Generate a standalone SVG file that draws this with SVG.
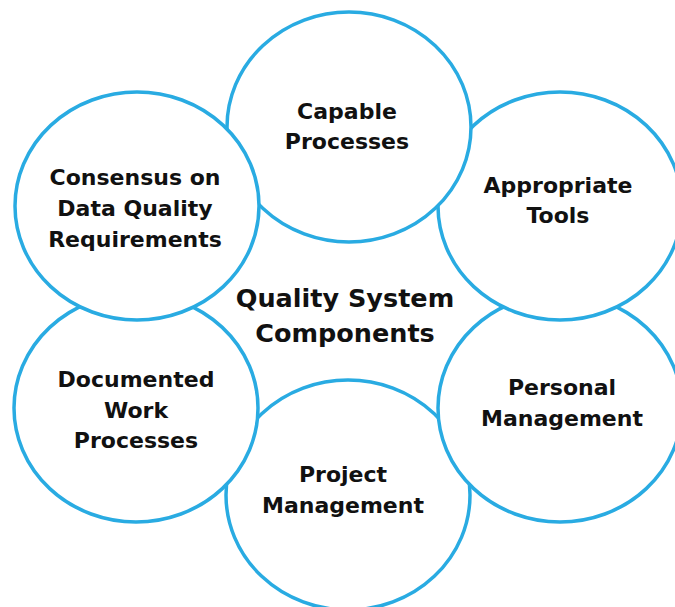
<svg xmlns="http://www.w3.org/2000/svg" width="675" height="607" viewBox="0 0 675 607">
<style>
.c{fill:#fff;stroke:#29abe2;stroke-width:3.5}
.t{font-family:"DejaVu Sans","Liberation Sans",sans-serif;font-weight:bold;font-size:22px;fill:#111;text-anchor:middle}
.m{font-size:25.5px}
</style>
<rect width="675" height="607" fill="#fff"/>
<g id="connectors"/>
<g id="project">
<ellipse class="c" cx="348" cy="495" rx="122" ry="115"/>
<text class="t" x="343" y="482">Project</text>
<text class="t" x="343" y="513">Management</text>
</g>
<g id="personal">
<ellipse class="c" cx="560" cy="408" rx="122" ry="114"/>
<text class="t" x="562" y="395">Personal</text>
<text class="t" x="562" y="426">Management</text>
</g>
<g id="appropriate">
<ellipse class="c" cx="560" cy="206" rx="122" ry="114"/>
<text class="t" x="558" y="193">Appropriate</text>
<text class="t" x="558" y="223">Tools</text>
</g>
<g id="capable">
<ellipse class="c" cx="349" cy="127" rx="122" ry="115"/>
<text class="t" x="347" y="119">Capable</text>
<text class="t" x="347" y="149">Processes</text>
</g>
<g id="documented">
<ellipse class="c" cx="136" cy="408" rx="122" ry="114"/>
<text class="t" x="136" y="387">Documented</text>
<text class="t" x="136" y="418">Work</text>
<text class="t" x="136" y="448">Processes</text>
</g>
<g id="consensus">
<ellipse class="c" cx="137" cy="206" rx="122" ry="114"/>
<text class="t" x="135" y="185">Consensus on</text>
<text class="t" x="135" y="216">Data Quality</text>
<text class="t" x="135" y="247">Requirements</text>
</g>
<g id="center">
<text class="t m" x="345" y="307">Quality System</text>
<text class="t m" x="345" y="342">Components</text>
</g>
</svg>
